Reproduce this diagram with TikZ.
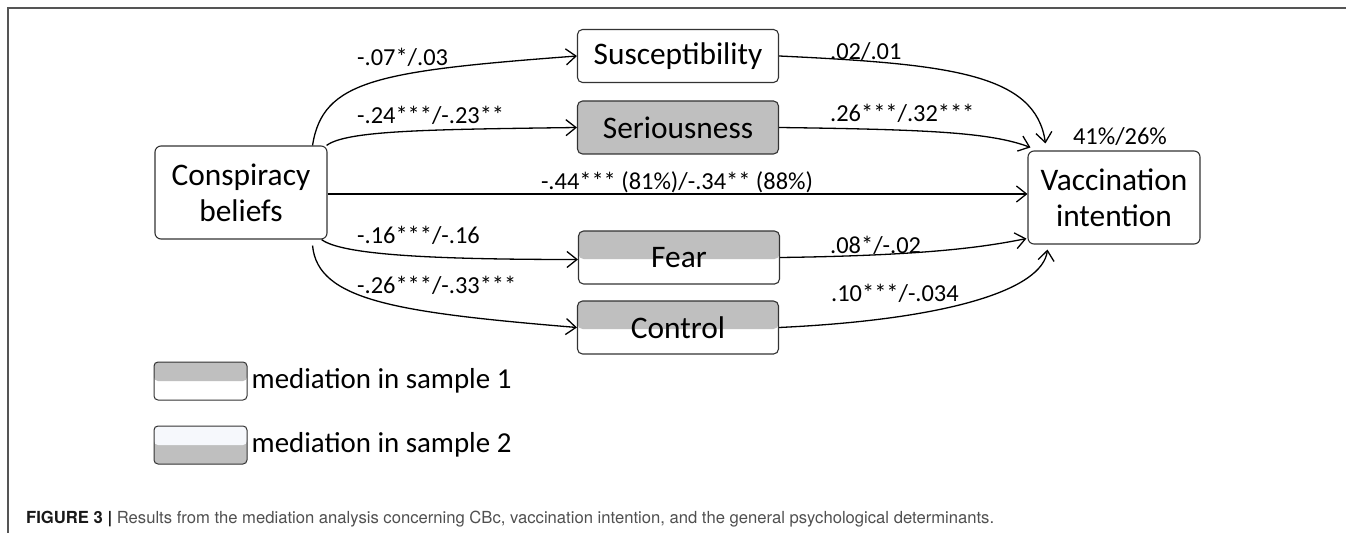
\documentclass[tikz,border=0pt]{standalone}
\usepackage{fontspec}
\setmainfont{Carlito}
\newfontfamily\capfont{TeX Gyre Heros}
\usepackage{xcolor}
\usepackage{tikz}
\usetikzlibrary{arrows.meta}
\definecolor{medgray}{RGB}{191,191,191}
\definecolor{palewhite}{RGB}{246,248,252}
\definecolor{framegray}{RGB}{85,85,85}
\definecolor{captiongray}{RGB}{80,80,80}

\begin{document}
\begin{tikzpicture}[x=1bp, y=-1bp, node distance=437bp, >={Straight Barb[length=10bp,width=16bp]}]
    \tikzstyle{construct} = [rectangle, rounded corners=6bp, minimum width=172bp, minimum height=93bp, align=center, draw=black!80, line width=1.1bp, fill=white, font=\fontsize{31.5}{36}\selectfont]
    \tikzstyle{mediator} = [rectangle, rounded corners=5bp, minimum width=201bp, minimum height=53bp, text centered, draw=black!80, line width=1.1bp, fill=white, font=\fontsize{31.5}{36}\selectfont]
    \tikzstyle{medboth} = [mediator, fill=medgray]
    \tikzstyle{medone} = [mediator, path picture={\fill[medgray] (path picture bounding box.north west) rectangle ([yshift=-1.5bp]path picture bounding box.east);}]
    \tikzstyle{legone} = [rectangle, rounded corners=4bp, minimum width=93bp, minimum height=38bp, draw=black!80, line width=1bp, fill=white, path picture={\fill[medgray] (path picture bounding box.north west) rectangle (path picture bounding box.east);}]
    \tikzstyle{legtwo} = [rectangle, rounded corners=4bp, minimum width=93bp, minimum height=38bp, draw=black!80, line width=1bp, fill=medgray, path picture={\fill[palewhite] (path picture bounding box.north west) rectangle (path picture bounding box.east);}]
    \tikzstyle{legendtext} = [inner sep=0pt, anchor=west, font=\fontsize{29}{34}\selectfont]
    \tikzstyle{weight} = [inner sep=0pt, anchor=west, font=\fontsize{24.5}{28}\selectfont]
    \tikzstyle{link} = [->, line width=1.3bp]
    \useasboundingbox (0,0) rectangle (1346,533);

    % Frame
    \draw [framegray, line width=1.5bp] (8,533) -- (8,8) -- (1346,8);

    % Predictor, mediators and outcome
    \node [construct] (cb) at (241,192.5) {Conspiracy\\beliefs};
    \node [mediator, right of=cb, yshift=136.5bp] (sus) {Susceptibility};
    \node [medboth, right of=cb, yshift=65bp] (ser) {Seriousness};
    \node [medone, right of=cb, xshift=1bp, yshift=-65bp] (fear) {Fear};
    \node [medone, right of=cb, yshift=-135bp] (ctrl) {Control};
    \node [construct, right of=cb, xshift=436bp, yshift=-5bp] (vac) {Vaccination\\intention};

    % Paths a
    \draw [link] ([xshift=-15bp]cb.north east) .. controls +(10,-65) and +(-200,15) .. (sus.west);
    \draw [link] ([xshift=-1bp]cb.north east) .. controls +(20,-15) and +(-150,2) .. (ser.west);
    \draw [link] (cb.east |- 0,194) -- (vac.west |- 0,194);
    \draw [link] ([xshift=-6bp]cb.south east) .. controls +(20,15) and +(-150,0) .. ([yshift=-2bp]fear.west);
    \draw [link] ([xshift=-15bp, yshift=-6bp]cb.south east) .. controls +(5,55) and +(-180,-15) .. (ctrl.west);

    % Paths b
    \draw [link] (sus.east) .. controls +(170,8) and +(-10,-70) .. ([xshift=18bp, yshift=7bp]vac.north west);
    \draw [link] (ser.east) .. controls +(150,2) and +(-40,-15) .. ([xshift=3bp, yshift=3bp]vac.north west);
    \draw [link] (fear.east) .. controls +(150,-2) and +(-40,8) .. ([xshift=-1bp, yshift=6bp]vac.south west);
    \draw [link] (ctrl.east) .. controls +(170,-8) and +(-5,40) .. ([xshift=20bp, yshift=-5bp]vac.south west);

    % Coefficients
    \node [weight] (wsus) at (357,57) {-.07*/.03};
    \node [weight] (wser) at (357,115) {-.24***/-.23**};
    \node [weight, anchor=center] (wdir) at (677,182) {-.44*** (81\%)/-.34** (88\%)};
    \node [weight] (wfear) at (357,235) {-.16***/-.16};
    \node [weight] (wctrl) at (357,285) {-.26***/-.33***};
    \node [weight] (wsusv) at (830,52) {.02/.01};
    \node [weight] (wserv) at (830,113) {.26***/.32***};
    \node [weight] (wfearv) at (830,245) {.08*/-.02};
    \node [weight] (wctrlv) at (831,293) {.10***/-.034};
    \node [weight, anchor=center] (rsq) at (1120,137) {41\%/26\%};

    % Legend
    \node [legone] (leg1) at (200.5,381) {};
    \node [legendtext] (leg1txt) at ([xshift=4bp]leg1.east) {mediation in sample 1};
    \node [legtwo] (leg2) at (200.5,445) {};
    \node [legendtext] (leg2txt) at ([xshift=4bp]leg2.east) {mediation in sample 2};

    % Caption
    \node [inner sep=0pt, anchor=base west, font=\capfont\fontsize{16.7}{19}\selectfont, text=captiongray] (cap) at (26,523) {{\bfseries\color{black!90}FIGURE 3 |} Results from the mediation analysis concerning CBc, vaccination intention, and the general psychological determinants.};
\end{tikzpicture}
\end{document}
